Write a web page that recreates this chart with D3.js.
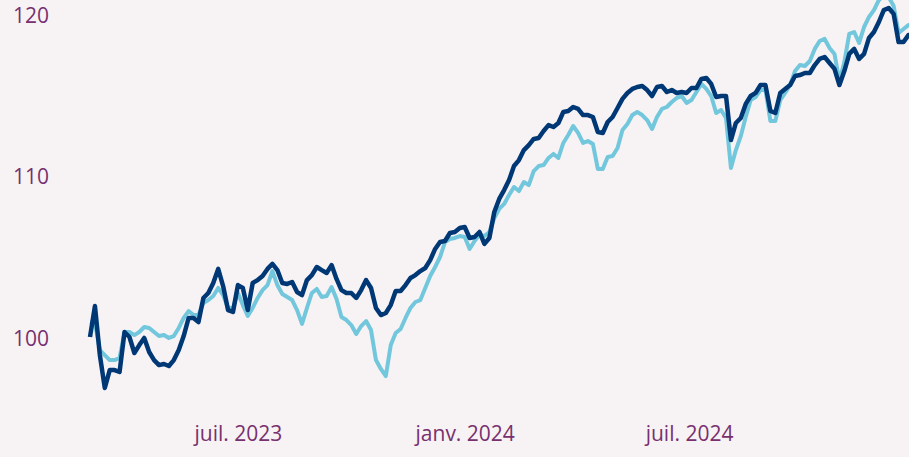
<!DOCTYPE html>
<html>
<head>
<meta charset="utf-8">
<script src="https://cdn.jsdelivr.net/npm/d3@7"></script>
<style>
  html, body { margin: 0; padding: 0; background: #f7f3f5; }
  svg { display: block; }
  .tick text { font-family: "Open Sans", sans-serif; font-size: 21px; fill: #78306e; }
</style>
</head>
<body>
<svg id="chart"></svg>
<script>
// dates (every 4 days)
var dates = [
  "2023-03-03","2023-03-07","2023-03-11","2023-03-15","2023-03-19","2023-03-23","2023-03-27","2023-03-31",
  "2023-04-04","2023-04-08","2023-04-12","2023-04-16","2023-04-20","2023-04-24","2023-04-28","2023-05-02",
  "2023-05-06","2023-05-10","2023-05-14","2023-05-18","2023-05-22","2023-05-26","2023-05-30","2023-06-03",
  "2023-06-07","2023-06-11","2023-06-15","2023-06-19","2023-06-23","2023-06-27","2023-07-01","2023-07-05",
  "2023-07-09","2023-07-13","2023-07-17","2023-07-21","2023-07-25","2023-07-29","2023-08-02","2023-08-06",
  "2023-08-10","2023-08-14","2023-08-18","2023-08-22","2023-08-26","2023-08-30","2023-09-03","2023-09-07",
  "2023-09-11","2023-09-15","2023-09-19","2023-09-23","2023-09-27","2023-10-01","2023-10-05","2023-10-09",
  "2023-10-13","2023-10-17","2023-10-21","2023-10-25","2023-10-29","2023-11-02","2023-11-06","2023-11-10",
  "2023-11-14","2023-11-18","2023-11-22","2023-11-26","2023-11-30","2023-12-04","2023-12-08","2023-12-12",
  "2023-12-16","2023-12-20","2023-12-24","2023-12-28","2024-01-01","2024-01-05","2024-01-09","2024-01-13",
  "2024-01-17","2024-01-21","2024-01-25","2024-01-29","2024-02-02","2024-02-06","2024-02-10","2024-02-14",
  "2024-02-18","2024-02-22","2024-02-26","2024-03-01","2024-03-05","2024-03-09","2024-03-13","2024-03-17",
  "2024-03-21","2024-03-25","2024-03-29","2024-04-02","2024-04-06","2024-04-10","2024-04-14","2024-04-18",
  "2024-04-22","2024-04-26","2024-04-30","2024-05-04","2024-05-08","2024-05-12","2024-05-16","2024-05-20",
  "2024-05-24","2024-05-28","2024-06-01","2024-06-05","2024-06-09","2024-06-13","2024-06-17","2024-06-21",
  "2024-06-25","2024-06-29","2024-07-03","2024-07-07","2024-07-11","2024-07-15","2024-07-19","2024-07-23",
  "2024-07-27","2024-07-31","2024-08-04","2024-08-08","2024-08-12","2024-08-16","2024-08-20","2024-08-24",
  "2024-08-28","2024-09-01","2024-09-05","2024-09-09","2024-09-13","2024-09-17","2024-09-21","2024-09-25",
  "2024-09-29","2024-10-03","2024-10-07","2024-10-11","2024-10-15","2024-10-19","2024-10-23","2024-10-27",
  "2024-10-31","2024-11-04","2024-11-08","2024-11-12","2024-11-16","2024-11-20","2024-11-24","2024-11-28",
  "2024-12-02","2024-12-06","2024-12-10","2024-12-14","2024-12-18","2024-12-22","2024-12-26","2024-12-30"
];

// dark blue series
var darkValues = [
  100.08,102.00,98.96,96.92,98.03,98.03,97.91,100.39,
  100.08,99.09,99.58,100.02,99.15,98.65,98.34,98.41,
  98.28,98.65,99.27,100.14,101.26,101.26,101.01,102.50,
  102.81,103.43,104.30,103.24,101.75,101.63,103.30,103.12,
  101.75,103.43,103.61,103.86,104.30,104.61,104.23,103.43,
  103.37,103.49,102.87,102.68,103.61,103.92,104.42,104.23,
  104.05,104.54,103.68,102.99,102.81,102.81,102.50,102.99,
  103.61,103.12,101.88,101.44,101.57,102.06,102.93,102.93,
  103.30,103.74,103.92,104.17,104.36,104.85,105.54,105.97,
  106.03,106.53,106.59,106.84,106.90,106.22,106.28,106.59,
  105.85,106.22,107.83,108.64,109.19,109.81,110.68,111.05,
  111.67,111.98,112.36,112.42,112.85,113.22,113.10,113.35,
  114.03,114.09,114.34,114.22,113.84,113.84,113.72,112.79,
  112.73,113.41,113.72,114.28,114.84,115.21,115.46,115.58,
  115.64,115.39,115.02,115.58,115.64,115.27,115.39,115.21,
  115.27,115.21,115.52,115.52,116.08,116.14,115.77,114.96,
  115.02,115.02,112.29,113.35,113.66,114.53,115.02,115.21,
  115.70,115.70,114.09,113.97,115.21,115.46,115.70,116.26,
  116.32,116.45,116.45,116.94,117.32,117.44,117.07,116.70,
  115.70,116.57,117.63,117.94,117.32,117.63,118.62,118.99,
  119.61,120.35,120.48,120.11,118.37,118.37,118.80,118.80
];

// light blue series
var lightValues = [
  101.01,100.95,99.27,98.96,98.65,98.65,98.78,100.39,
  100.39,100.20,100.39,100.70,100.64,100.39,100.14,100.20,
  100.02,100.14,100.64,101.26,101.69,101.44,101.44,102.19,
  102.37,102.62,103.12,102.68,101.88,101.88,102.81,102.06,
  101.38,101.88,102.50,102.99,103.30,104.17,103.30,102.75,
  102.56,102.37,101.75,100.89,101.88,102.81,103.06,102.56,
  102.62,103.18,102.44,101.32,101.13,100.82,100.27,100.76,
  101.07,100.51,98.65,98.10,97.66,99.58,100.33,100.58,
  101.26,101.88,102.25,102.37,103.12,103.86,104.42,105.04,
  105.97,106.16,106.22,106.34,106.28,105.54,106.03,106.40,
  106.34,106.59,107.46,108.02,108.33,108.88,109.38,109.13,
  109.69,109.50,110.37,110.68,110.74,111.18,111.43,111.18,
  112.11,112.60,113.16,112.73,112.11,112.23,112.05,110.50,
  110.50,111.24,111.30,111.80,112.91,113.29,113.84,114.03,
  113.84,113.53,112.98,113.72,114.22,114.34,114.65,114.90,
  115.02,114.59,114.77,115.27,115.77,115.46,115.02,113.97,
  114.15,113.66,110.56,111.67,112.54,113.72,114.77,114.96,
  115.39,115.39,113.47,113.47,114.77,115.21,115.70,116.57,
  116.94,116.88,117.19,117.94,118.43,118.56,118.00,117.63,
  115.95,117.13,118.87,118.99,118.31,119.30,119.92,120.35,
  120.97,121.22,121.16,120.60,118.93,119.18,119.42,119.42
];

var yTicks = [100, 110, 120];
var xTickDates = ["2023-07-01", "2024-01-01", "2024-07-01"];
var xTickLabels = ["juil. 2023", "janv. 2024", "juil. 2024"];

var width = 909, height = 457;
var parse = d3.timeParse("%Y-%m-%d");

var svg = d3.select("#chart")
    .attr("width", width)
    .attr("height", height);

svg.append("rect")
    .attr("width", width)
    .attr("height", height)
    .attr("fill", "#f7f3f5");

// time scale: Jul 2023 tick sits near x=238
var x = d3.scaleTime()
    .domain([parse("2023-03-03"), parse("2024-12-31")])
    .range([90, 914.6]);

var y = d3.scaleLinear()
    .domain([100, 120])
    .range([338.3, 15.7]);

// y axis, labels only
var yAxis = d3.axisLeft(y)
    .tickValues(yTicks)
    .tickSize(0)
    .tickPadding(0)
    .tickFormat(d3.format("d"));

svg.append("g")
    .attr("transform", "translate(49,0)")
    .call(yAxis)
    .call(function(g) { g.select(".domain").remove(); });

// x axis, labels only
var xAxis = d3.axisBottom(x)
    .tickValues(xTickDates.map(parse))
    .tickSize(0)
    .tickPadding(0)
    .tickFormat(function(d, i) { return xTickLabels[i]; });

svg.append("g")
    .attr("transform", "translate(0,426)")
    .call(xAxis)
    .call(function(g) { g.select(".domain").remove(); });

var line = d3.line()
    .x(function(d) { return x(d.date); })
    .y(function(d) { return y(d.value); });

function series(values) {
  return dates.map(function(s, i) { return {date: parse(s), value: values[i]}; });
}

svg.append("path")
    .datum(series(lightValues))
    .attr("fill", "none")
    .attr("stroke", "#72c7dc")
    .attr("stroke-width", 4)
    .attr("stroke-linejoin", "round")
    .attr("d", line);

svg.append("path")
    .datum(series(darkValues))
    .attr("fill", "none")
    .attr("stroke", "#003875")
    .attr("stroke-width", 4.5)
    .attr("stroke-linejoin", "round")
    .attr("d", line);
</script>
</body>
</html>
